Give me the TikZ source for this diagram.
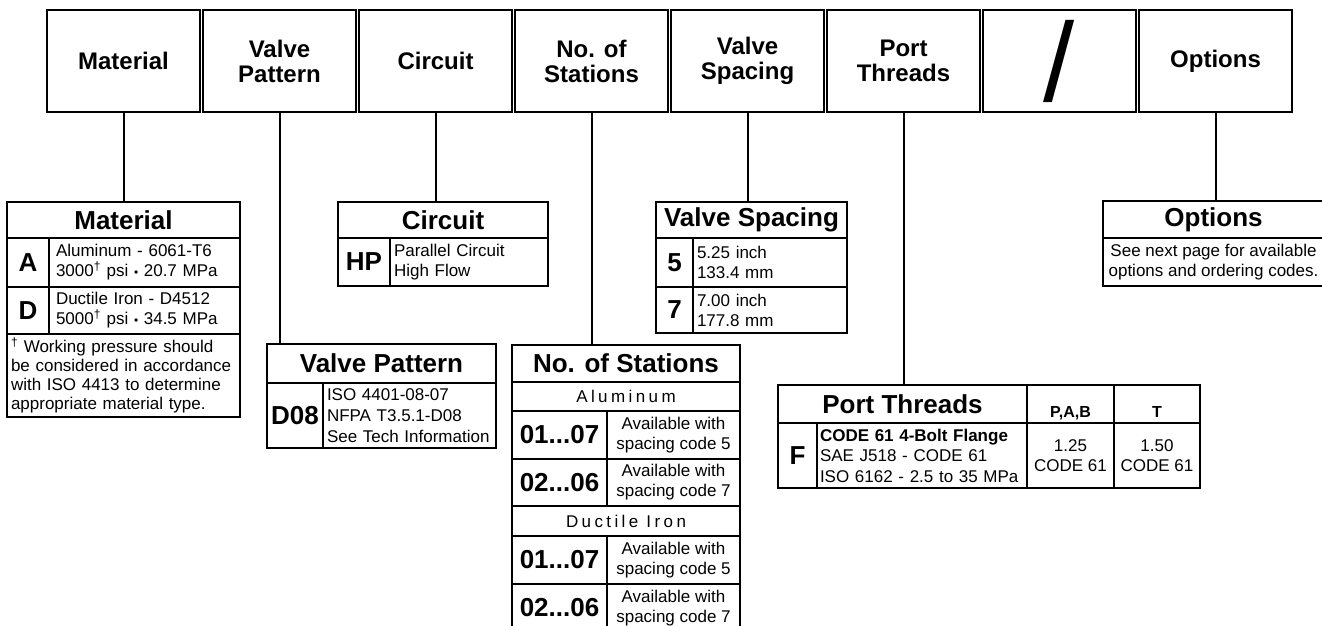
\documentclass[tikz,border=0pt]{standalone}
\usepackage{fontspec}
\setmainfont{Liberation Sans}
\newfontfamily\trackedfont[LetterSpace=20]{Liberation Sans}
\usepackage{tikz}
\newcommand{\headfont}{\fontsize{24}{25}\selectfont\bfseries}
\newcommand{\boxtitlefont}{\fontsize{26}{28}\selectfont\bfseries}
\newcommand{\codefont}{\fontsize{26}{28}\selectfont\bfseries}
\newcommand{\rowfont}{\fontsize{17}{20}\selectfont}
\newcommand{\colheadfont}{\fontsize{16}{18}\selectfont\bfseries}
\newcommand{\slashfont}{\fontsize{112}{112}\selectfont}
\newcommand{\trackfont}{\fontsize{17}{20}\selectfont\trackedfont}
\newcommand{\dagmark}{\textsuperscript{\textdagger}}
\newcommand{\sepdot}{{\fontsize{12}{12}\selectfont\textbullet}}

\begin{document}
\begin{tikzpicture}[x=1pt, y=-1pt,
    hdr/.style={draw, line width=2.4pt, minimum width=153pt, minimum height=102pt,
                inner sep=0pt, align=center, font=\headfont},
    cell/.style={draw, line width=1.4pt, inner sep=0pt, outer sep=0pt,
                 anchor=north west, align=center, font=\rowfont},
    lcell/.style={cell, align=left, inner xsep=4pt},
    ttl/.style={cell, font=\boxtitlefont},
    code/.style={cell, font=\codefont},
    outer/.style={line width=2.4pt},
    conn/.style={line width=2pt},
]
    \useasboundingbox (0,0) rectangle (1322,625);
    \clip (0,0) rectangle (1322,625);

    % ordering code header
    \node[hdr] (hmat) at (123.5,61) {Material};
    \node[hdr] (hpat) at (279.5,61) {Valve\\Pattern};
    \node[hdr] (hcir) at (435.5,61) {Circuit};
    \node[hdr] (hsta) at (591.5,61) {No. of\\Stations};
    \node[hdr] (hspa) at (747.5,61) {Valve\\Spacing};
    \node[hdr] (hthr) at (903.5,61) {Port\\Threads};
    \node[hdr, font=\slashfont] (hsl) at (1059.5,61) {/};
    \node[hdr] (hopt) at (1215.5,61) {Options};

    % material
    \node[ttl, minimum width=233pt, minimum height=36pt] (mattl) at (7,202) {Material};
    \node[code, minimum width=42pt, minimum height=49pt] (matac) at (7,238) {A};
    \node[lcell, inner xsep=7pt, text width=177pt, minimum height=49pt] (matat) at (49,238)
        {Aluminum - 6061-T6\\3000\dagmark{} psi \sepdot{} 20.7 MPa};
    \node[code, minimum width=42pt, minimum height=47pt] (matdc) at (7,287) {D};
    \node[lcell, inner xsep=7pt, text width=177pt, minimum height=47pt] (matdt) at (49,287)
        {Ductile Iron - D4512\\5000\dagmark{} psi \sepdot{} 34.5 MPa};
    \node[lcell, text width=225pt, minimum height=83pt, font=\fontsize{17}{19}\selectfont] (matnt) at (7,334)
        {\dagmark{} Working pressure should\\be considered in accordance\\with ISO 4413 to determine\\appropriate material type.};
    \draw[outer] (mattl.north west) rectangle (matnt.south east);

    % circuit
    \node[ttl, minimum width=210pt, minimum height=36pt] (cirtl) at (338,202) {Circuit};
    \node[code, minimum width=52pt, minimum height=48pt] (cirhc) at (338,238) {HP};
    \node[lcell, text width=150pt, minimum height=48pt] (cirht) at (390,238) {Parallel Circuit\\High Flow};
    \draw[outer] (cirtl.north west) rectangle (cirht.south east);

    % valve spacing
    \node[ttl, minimum width=191pt, minimum height=36pt] (vsptl) at (656,202) {Valve Spacing};
    \node[code, minimum width=37pt, minimum height=49pt] (vsp5c) at (656,238) {5};
    \node[lcell, text width=146pt, minimum height=49pt] (vsp5t) at (693,238) {5.25 inch\\133.4 mm};
    \node[code, minimum width=37pt, minimum height=46pt] (vsp7c) at (656,287) {7};
    \node[lcell, text width=146pt, minimum height=46pt] (vsp7t) at (693,287) {7.00 inch\\177.8 mm};
    \draw[outer] (vsptl.north west) rectangle (vsp7t.south east);

    % options
    \node[ttl, minimum width=221pt, minimum height=37pt] (opttl) at (1103,201) {Options};
    \node[cell, minimum width=221pt, minimum height=48pt] (optnt) at (1103,238)
        {See next page for available\\options and ordering codes.};
    \draw[outer] (opttl.north west) rectangle (optnt.south east);

    % valve pattern
    \node[ttl, minimum width=229pt, minimum height=39pt] (vpttl) at (267,344) {Valve Pattern};
    \node[code, minimum width=56pt, minimum height=65pt] (vptc) at (267,383) {D08};
    \node[lcell, text width=165pt, minimum height=65pt, font=\fontsize{17}{21}\selectfont] (vptt) at (323,383)
        {ISO 4401-08-07\\NFPA T3.5.1-D08\\See Tech Information};
    \draw[outer] (vpttl.north west) rectangle (vptt.south east);

    % no. of stations
    \node[ttl, minimum width=228pt, minimum height=37pt] (sttl) at (512,345) {No. of Stations};
    \node[cell, font=\trackfont, minimum width=228pt, minimum height=29pt] (stal) at (512,382) {Aluminum};
    \node[code, minimum width=95pt, minimum height=48pt] (st1c) at (512,411) {01...07};
    \node[cell, minimum width=133pt, minimum height=48pt] (st1t) at (607,411) {Available with\\spacing code 5};
    \node[code, minimum width=95pt, minimum height=47pt] (st2c) at (512,459) {02...06};
    \node[cell, minimum width=133pt, minimum height=47pt] (st2t) at (607,459) {Available with\\spacing code 7};
    \node[cell, font=\trackfont, minimum width=228pt, minimum height=30pt] (stdi) at (512,506) {Ductile Iron};
    \node[code, minimum width=95pt, minimum height=48pt] (st3c) at (512,536) {01...07};
    \node[cell, minimum width=133pt, minimum height=48pt] (st3t) at (607,536) {Available with\\spacing code 5};
    \node[code, minimum width=95pt, minimum height=48pt] (st4c) at (512,584) {02...06};
    \node[cell, minimum width=133pt, minimum height=48pt] (st4t) at (607,584) {Available with\\spacing code 7};
    \draw[outer] (sttl.north west) rectangle (st4t.south east);

    % port threads
    \node[ttl, minimum width=249pt, minimum height=38pt] (pttl) at (778,385) {Port Threads};
    \node[cell, font=\colheadfont, text height=26pt, text depth=0pt, minimum width=87pt, minimum height=38pt] (ptpab) at (1027,385) {P,A,B};
    \node[cell, font=\colheadfont, text height=26pt, text depth=0pt, minimum width=86pt, minimum height=38pt] (ptt) at (1114,385) {T};
    \node[code, minimum width=39pt, minimum height=65pt] (ptfc) at (778,423) {F};
    \node[lcell, inner xsep=3pt, text width=204pt, minimum height=65pt, font=\fontsize{17}{20.5}\selectfont] (ptft) at (817,423)
        {\textbf{CODE 61 4-Bolt Flange}\\SAE J518 - CODE 61\\ISO 6162 - 2.5 to 35 MPa};
    \node[cell, minimum width=87pt, minimum height=65pt] (ptpabv) at (1027,423) {1.25\\CODE 61};
    \node[cell, minimum width=86pt, minimum height=65pt] (pttv) at (1114,423) {1.50\\CODE 61};
    \draw[outer] (pttl.north west) rectangle (pttv.south east);

    \draw[conn] (hmat.south) -- (hmat.south |- mattl.north);
    \draw[conn] (hpat.south) -- (hpat.south |- vpttl.north);
    \draw[conn] (hcir.south) -- (hcir.south |- cirtl.north);
    \draw[conn] (hsta.south) -- (hsta.south |- sttl.north);
    \draw[conn] (hspa.south) -- (hspa.south |- vsptl.north);
    \draw[conn] (hthr.south) -- (hthr.south |- pttl.north);
    \draw[conn] (hopt.south) -- (hopt.south |- opttl.north);
\end{tikzpicture}
\end{document}
